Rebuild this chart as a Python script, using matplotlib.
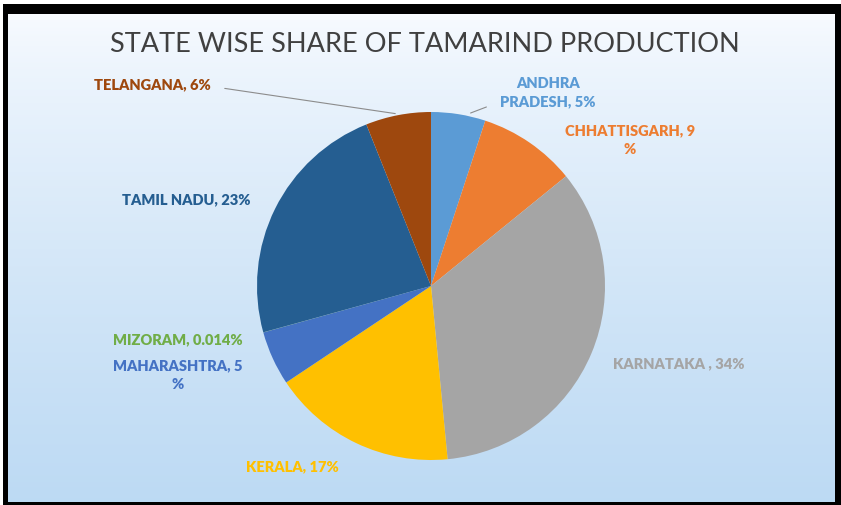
import numpy as np
import matplotlib
matplotlib.use("Agg")
from matplotlib import pyplot as plt
from matplotlib.patches import Rectangle

# data
states = ["ANDHRA\nPRADESH", "CHHATTISGARH", "KARNATAKA ", "KERALA", "MAHARASHTRA",
          "MIZORAM", "TAMIL NADU", "TELANGANA"]
shares = [5, 9, 34, 17, 5, 0.014, 23, 6]
share_text = ["5%", "9\n%", "34%", "17%", "5\n%", "0.014%", "23%", "6%"]
colors = ["#5B9BD5", "#ED7D31", "#A5A5A5", "#FFC000", "#4472C4", "#70AD47", "#255E91", "#9E480E"]

W, H = 841, 506
fig = plt.figure(figsize=(W / 100, H / 100), dpi=100, facecolor="white")

# black frame, then gradient panel inside it
fig.patches.append(Rectangle((3 / W, 0), 1 - 3 / W, 1 - 5 / H, transform=fig.transFigure,
                             facecolor="black", edgecolor="none", zorder=-10))
bg = fig.add_axes([8 / W, 3 / H, (835 - 8) / W, (503 - 15) / H])
grad = np.linspace(0, 1, 256).reshape(-1, 1)
top = np.array([0.975, 0.985, 1.0])
bot = np.array([0.74, 0.855, 0.955])
img = top + (bot - top) * grad[..., None] ** 0.75
bg.imshow(img, aspect="auto", extent=[0, 1, 0, 1], origin="upper")
bg.set_xlim(0, 1)
bg.set_ylim(0, 1)
bg.axis("off")

cx, cy, r = 431, 287, 174
ax = fig.add_axes([(cx - r) / W, (H - cy - r) / H, 2 * r / W, 2 * r / H])
ax.pie(shares, colors=colors, startangle=90, counterclock=False, radius=1,
       wedgeprops=dict(linewidth=0))
ax.set_xlim(-1, 1)
ax.set_ylim(-1, 1)
ax.set_aspect("equal")
ax.axis("off")

def pos(px, py):
    return ((px - cx) / r, (cy - py) / r)

label_pix = [(548, 93), (630, 140), (679, 364), (292, 467), (178, 375),
             (178, 340), (186, 200), (152, 85)]
for i, name in enumerate(states):
    txt = name + ", " + share_text[i]
    ax.text(*pos(*label_pix[i]), txt, ha="center", va="center", color=colors[i],
            fontsize=10.5, fontweight="heavy", family="Lato", linespacing=1.5,
            clip_on=False)

# leader lines
ax.annotate("", xy=pos(398, 115), xytext=pos(222, 89),
            arrowprops=dict(arrowstyle="-", color="#8c8c8c", lw=0.8))
ax.annotate("", xy=pos(468, 115), xytext=pos(489, 107),
            arrowprops=dict(arrowstyle="-", color="#8c8c8c", lw=0.8))

fig.text(425 / W, 1 - 45 / H, "STATE WISE SHARE OF TAMARIND PRODUCTION", ha="center",
         va="center", fontsize=19.5, color="#404040", family="Lato")

fig.savefig("out.png", dpi=100, facecolor="white")
